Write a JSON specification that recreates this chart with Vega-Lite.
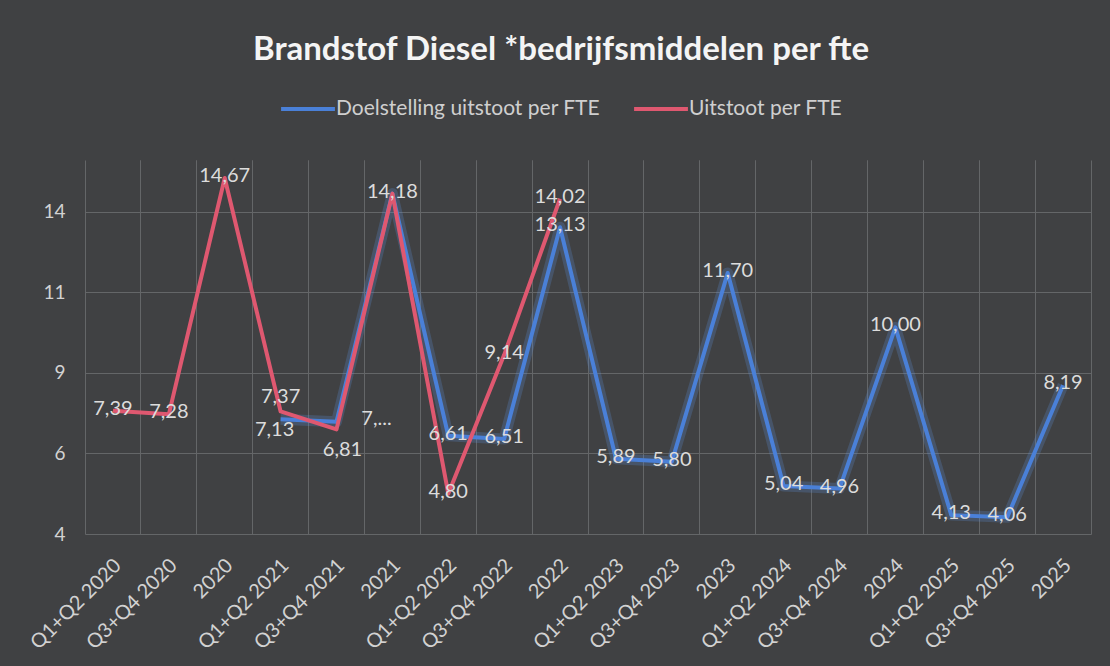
{
  "$schema": "https://vega.github.io/schema/vega-lite/v6.json",
  "width": 1006,
  "height": 374,
  "autosize": {"type": "none"},
  "padding": {"left": 85, "top": 160, "right": 19, "bottom": 132},
  "background": "#404143",
  "config": {
    "locale": {"number": {"decimal": ",", "thousands": ".", "grouping": [3], "currency": ["€", ""]}},
    "view": {"stroke": null}
  },
  "title": {
    "text": "Brandstof Diesel  *bedrijfsmiddelen per fte",
    "anchor": "middle",
    "dx": -27,
    "offset": 13,
    "font": "Lato",
    "fontSize": 33,
    "fontWeight": "bold",
    "color": "#f4f4f4"
  },
  "data": {
    "values": [
      {"period": "Q1+Q2 2020", "series": "Uitstoot per FTE", "value": 7.39},
      {"period": "Q3+Q4 2020", "series": "Uitstoot per FTE", "value": 7.28},
      {"period": "2020", "series": "Uitstoot per FTE", "value": 14.67},
      {"period": "Q1+Q2 2021", "series": "Uitstoot per FTE", "value": 7.37},
      {"period": "Q3+Q4 2021", "series": "Uitstoot per FTE", "value": 6.81},
      {"period": "2021", "series": "Uitstoot per FTE", "value": 14.18},
      {"period": "Q1+Q2 2022", "series": "Uitstoot per FTE", "value": 4.80},
      {"period": "Q3+Q4 2022", "series": "Uitstoot per FTE", "value": 9.14},
      {"period": "2022", "series": "Uitstoot per FTE", "value": 14.02},
      {"period": "Q1+Q2 2021", "series": "Doelstelling uitstoot per FTE", "value": 7.13},
      {"period": "Q3+Q4 2021", "series": "Doelstelling uitstoot per FTE", "value": 7.05},
      {"period": "2021", "series": "Doelstelling uitstoot per FTE", "value": 14.18},
      {"period": "Q1+Q2 2022", "series": "Doelstelling uitstoot per FTE", "value": 6.61},
      {"period": "Q3+Q4 2022", "series": "Doelstelling uitstoot per FTE", "value": 6.51},
      {"period": "2022", "series": "Doelstelling uitstoot per FTE", "value": 13.13},
      {"period": "Q1+Q2 2023", "series": "Doelstelling uitstoot per FTE", "value": 5.89},
      {"period": "Q3+Q4 2023", "series": "Doelstelling uitstoot per FTE", "value": 5.80},
      {"period": "2023", "series": "Doelstelling uitstoot per FTE", "value": 11.70},
      {"period": "Q1+Q2 2024", "series": "Doelstelling uitstoot per FTE", "value": 5.04},
      {"period": "Q3+Q4 2024", "series": "Doelstelling uitstoot per FTE", "value": 4.96},
      {"period": "2024", "series": "Doelstelling uitstoot per FTE", "value": 10.00},
      {"period": "Q1+Q2 2025", "series": "Doelstelling uitstoot per FTE", "value": 4.13},
      {"period": "Q3+Q4 2025", "series": "Doelstelling uitstoot per FTE", "value": 4.06},
      {"period": "2025", "series": "Doelstelling uitstoot per FTE", "value": 8.19}
    ]
  },
  "encoding": {
    "x": {
      "field": "period",
      "type": "ordinal",
      "bandPosition": 0.5,
      "sort": ["Q1+Q2 2020", "Q3+Q4 2020", "2020", "Q1+Q2 2021", "Q3+Q4 2021", "2021", "Q1+Q2 2022", "Q3+Q4 2022", "2022", "Q1+Q2 2023", "Q3+Q4 2023", "2023", "Q1+Q2 2024", "Q3+Q4 2024", "2024", "Q1+Q2 2025", "Q3+Q4 2025", "2025"],
      "scale": {"type": "band", "paddingInner": 0, "paddingOuter": 0},
      "axis": null
    },
    "y": {
      "field": "value",
      "type": "quantitative",
      "scale": {"domain": [3.54, 15.23], "nice": false, "zero": false},
      "axis": {
        "values": [3.54, 6.06, 8.58, 11.1, 13.62],
        "labelExpr": "round(datum.value)",
        "grid": true,
        "gridColor": "#646668",
        "gridWidth": 1,
        "domain": false,
        "ticks": false,
        "labelPadding": 20,
        "labelFont": "Lato",
        "labelFontSize": 19,
        "labelColor": "#d2d2d2",
        "title": null
      }
    },
    "color": {
      "field": "series",
      "type": "nominal",
      "scale": {"domain": ["Doelstelling uitstoot per FTE", "Uitstoot per FTE"], "range": ["#4a80d8", "#df5870"]},
      "legend": null
    }
  },
  "layer": [
    {
      "transform": [{"filter": "datum.series == 'Doelstelling uitstoot per FTE'"}],
      "mark": {"type": "line", "strokeWidth": 11, "opacity": 0.25, "strokeJoin": "round"},
      "encoding": {
        "color": {"value": "#5b8fd8"},
        "x": {
          "field": "period",
          "type": "ordinal",
          "bandPosition": 0.5,
          "sort": ["Q1+Q2 2020", "Q3+Q4 2020", "2020", "Q1+Q2 2021", "Q3+Q4 2021", "2021", "Q1+Q2 2022", "Q3+Q4 2022", "2022", "Q1+Q2 2023", "Q3+Q4 2023", "2023", "Q1+Q2 2024", "Q3+Q4 2024", "2024", "Q1+Q2 2025", "Q3+Q4 2025", "2025"],
          "scale": {"type": "band", "paddingInner": 0, "paddingOuter": 0},
          "axis": {
            "orient": "bottom",
            "bandPosition": 0,
            "grid": true,
            "gridColor": "#646668",
            "gridWidth": 1,
            "domain": false,
            "ticks": false,
            "labelAngle": -45,
            "labelOffset": -2,
            "labelPadding": 21,
            "labelFont": "Lato",
            "labelFontSize": 20,
            "labelColor": "#d2d2d2",
            "title": null
          }
        }
      }
    },
    {
      "transform": [{"filter": "datum.series == 'Doelstelling uitstoot per FTE'"}],
      "mark": {"type": "line", "strokeWidth": 4, "strokeJoin": "round"},
      "encoding": {
        "x": {
          "field": "period",
          "type": "ordinal",
          "bandPosition": 0.5,
          "sort": ["Q1+Q2 2020", "Q3+Q4 2020", "2020", "Q1+Q2 2021", "Q3+Q4 2021", "2021", "Q1+Q2 2022", "Q3+Q4 2022", "2022", "Q1+Q2 2023", "Q3+Q4 2023", "2023", "Q1+Q2 2024", "Q3+Q4 2024", "2024", "Q1+Q2 2025", "Q3+Q4 2025", "2025"],
          "scale": {"type": "band", "paddingInner": 0, "paddingOuter": 0},
          "axis": {
            "orient": "top",
            "bandPosition": 1,
            "grid": true,
            "gridColor": "#646668",
            "gridWidth": 1,
            "labels": false,
            "domain": false,
            "ticks": false,
            "title": null
          }
        },
        "color": {
          "field": "series",
          "type": "nominal",
          "scale": {"domain": ["Doelstelling uitstoot per FTE", "Uitstoot per FTE"], "range": ["#4a80d8", "#df5870"]},
          "legend": {
            "orient": "none",
            "legendX": 194,
            "legendY": -80,
            "direction": "horizontal",
            "title": null,
            "symbolType": "stroke",
            "symbolSize": 2900,
            "symbolStrokeWidth": 4,
            "labelFont": "Lato",
            "labelFontSize": 21,
            "labelColor": "#cfcfcf",
            "labelOffset": -1,
            "labelLimit": 500,
            "columnPadding": 25
          }
        }
      }
    },
    {
      "transform": [{"filter": "datum.series == 'Uitstoot per FTE'"}],
      "mark": {"type": "line", "strokeWidth": 4, "strokeJoin": "round"}
    },
    {
      "transform": [{"filter": "!((datum.series == 'Doelstelling uitstoot per FTE' && (datum.period == 'Q1+Q2 2021' || datum.period == 'Q3+Q4 2021' || datum.period == '2021')) || (datum.series == 'Uitstoot per FTE' && (datum.period == 'Q1+Q2 2021' || datum.period == 'Q3+Q4 2021')))"}],
      "mark": {"type": "text", "font": "Lato", "fontSize": 20, "dy": -2},
      "encoding": {"color": {"value": "#dcdcdc"}, "text": {"field": "value", "type": "quantitative", "format": ".2f"}}
    },
    {
      "transform": [{"filter": "datum.series == 'Uitstoot per FTE' && datum.period == 'Q1+Q2 2021'"}],
      "mark": {"type": "text", "font": "Lato", "fontSize": 20, "dy": -14},
      "encoding": {"color": {"value": "#dcdcdc"}, "text": {"field": "value", "type": "quantitative", "format": ".2f"}}
    },
    {
      "transform": [{"filter": "datum.series == 'Doelstelling uitstoot per FTE' && datum.period == 'Q1+Q2 2021'"}],
      "mark": {"type": "text", "font": "Lato", "fontSize": 20, "dy": 11, "dx": -6},
      "encoding": {"color": {"value": "#dcdcdc"}, "text": {"field": "value", "type": "quantitative", "format": ".2f"}}
    },
    {
      "transform": [{"filter": "datum.series == 'Uitstoot per FTE' && datum.period == 'Q3+Q4 2021'"}],
      "mark": {"type": "text", "font": "Lato", "fontSize": 20, "dy": 21, "dx": 6},
      "encoding": {"color": {"value": "#dcdcdc"}, "text": {"field": "value", "type": "quantitative", "format": ".2f"}}
    },
    {
      "transform": [{"filter": "datum.series == 'Doelstelling uitstoot per FTE' && datum.period == 'Q3+Q4 2021'"}],
      "mark": {"type": "text", "font": "Lato", "fontSize": 20, "dx": 40, "dy": -3, "text": "7,..."},
      "encoding": {"color": {"value": "#dcdcdc"}}
    }
  ],
  "resolve": {"axis": {"x": "independent"}}
}
